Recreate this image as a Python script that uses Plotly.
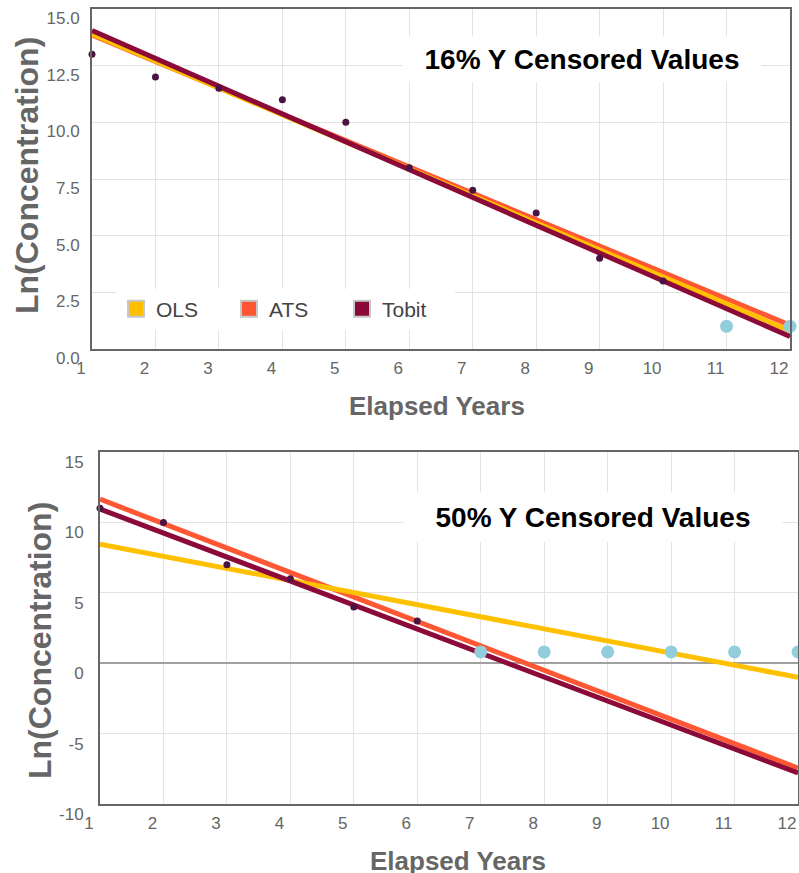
import plotly.graph_objects as go

# ---------------- data ----------------
years = [1, 2, 3, 4, 5, 6, 7, 8, 9, 10, 11, 12]

# Top chart (16% censored)
top_obs_x = [1, 2, 3, 4, 5, 6, 7, 8, 9, 10]
top_obs_y = [13.0, 12.0, 11.5, 11.0, 10.0, 8.0, 7.0, 6.0, 4.0, 3.0]
top_cens_x = [11, 12]
top_cens_y = [1.0, 1.0]
top_line_x = [1, 12]
top_ols = [13.9, 0.8]
top_ats = [13.85, 1.05]
top_tobit = [14.05, 0.55]
top_yticks = [0, 2.5, 5, 7.5, 10, 12.5, 15]
top_yticktext = ["0.0", "2.5", "5.0", "7.5", "10.0", "12.5", "15.0"]

# Bottom chart (50% censored)
bot_obs_x = [1, 2, 3, 4, 5, 6]
bot_obs_y = [11.0, 10.0, 7.0, 6.0, 4.0, 3.0]
bot_cens_x = [7, 8, 9, 10, 11, 12]
bot_cens_y = [0.8, 0.8, 0.8, 0.8, 0.8, 0.8]
bot_line_x = [1, 12]
bot_ols = [8.45, -1.0]
bot_ats = [11.65, -7.45]
bot_tobit = [10.95, -7.8]
bot_yticks = [-10, -5, 0, 5, 10, 15]
bot_yticktext = ["-10", "-5", "0", "5", "10", "15"]

series_names = ["OLS", "ATS", "Tobit"]
series_colors = ["#FFC000", "#FF5733", "#8B0A3A"]

top_title = "16% Y Censored Values"
bot_title = "50% Y Censored Values"
x_title = "Elapsed Years"
y_title = "Ln(Concentration)"

OBS_COLOR = "#4A1342"
CENS_COLOR = "#92CDDC"
FONT = "Arial, Liberation Sans, sans-serif"

fig = go.Figure()

def add_chart(xa, ya, lx, ols, ats, tobit, ox, oy, cx, cy, lw):
    for name, vals, col in [("ATS", ats, series_colors[1]),
                            ("OLS", ols, series_colors[0]),
                            ("Tobit", tobit, series_colors[2])]:
        fig.add_trace(go.Scatter(x=lx, y=vals, mode="lines", name=name,
                                 line=dict(color=col, width=lw),
                                 showlegend=False, xaxis=xa, yaxis=ya))
    fig.add_trace(go.Scatter(x=ox, y=oy, mode="markers", cliponaxis=False,
                             marker=dict(color=OBS_COLOR, size=7),
                             showlegend=False, xaxis=xa, yaxis=ya))
    fig.add_trace(go.Scatter(x=cx, y=cy, mode="markers", cliponaxis=False,
                             marker=dict(color=CENS_COLOR, size=13),
                             showlegend=False, xaxis=xa, yaxis=ya))

add_chart("x", "y", top_line_x, top_ols, top_ats, top_tobit,
          top_obs_x, top_obs_y, top_cens_x, top_cens_y, 5)
add_chart("x2", "y2", bot_line_x, bot_ols, bot_ats, bot_tobit,
          bot_obs_x, bot_obs_y, bot_cens_x, bot_cens_y, 5)

# legend entries (swatches)
for name, col in zip(series_names, series_colors):
    fig.add_trace(go.Scatter(x=[None], y=[None], mode="markers", name=name,
                             marker=dict(symbol="square", size=16, color=col,
                                         line=dict(color="#c8c8c8", width=2)),
                             xaxis="x", yaxis="y"))

W, H = 799, 873

def px_x(a, b):
    return [a / W, b / W]

def px_y(top, bottom):
    return [(H - bottom) / H, (H - top) / H]

axis_common = dict(showgrid=True, gridcolor="#e3e3e3", gridwidth=1,
                   showline=True, linecolor="#666666", linewidth=2, mirror=True,
                   ticks="", tickfont=dict(family=FONT, size=17, color="#666666"),
                   zeroline=False, automargin=False)

xaxis_common = dict(axis_common, range=[1, 12], tickmode="array", tickvals=years,
                    ticktext=[str(v) for v in years],
                    ticklabelshift=-11, ticklabelstandoff=3)

title_font = dict(family=FONT, size=26, color="#666666")
ytitle_font = dict(family=FONT, size=32, color="#666666")
head_font = dict(family=FONT, size=28, color="#000000")

fig.update_layout(
    width=W, height=H, autosize=False,
    margin=dict(l=0, r=0, t=0, b=0, autoexpand=False),
    paper_bgcolor="white", plot_bgcolor="white",
    font=dict(family=FONT),
    xaxis=dict(xaxis_common, domain=px_x(92, 790), anchor="y"),
    yaxis=dict(axis_common, domain=px_y(9, 349), anchor="x", range=[0, 15],
               tickmode="array", tickvals=top_yticks, ticktext=top_yticktext,
               ticklabelshift=9, ticklabelstandoff=7),
    xaxis2=dict(xaxis_common, domain=px_x(100, 798), anchor="y2"),
    yaxis2=dict(axis_common, domain=px_y(452, 804), anchor="x2", range=[-10, 15],
                tickmode="array", tickvals=bot_yticks, ticktext=bot_yticktext,
                ticklabelshift=10, ticklabelstandoff=11,
                zeroline=True, zerolinecolor="#a0a0a0", zerolinewidth=1.5),
    legend=dict(orientation="h", x=116 / W, xanchor="left",
                y=(H - 309) / H, yanchor="middle",
                bgcolor="white", font=dict(family=FONT, size=21, color="#444444"),
                entrywidth=68, entrywidthmode="pixels", itemclick=False),
    showlegend=True,
    annotations=[
        dict(text="<b>" + top_title + "</b>", xref="paper", yref="paper",
             x=582 / W, y=(H - 60) / H, xanchor="center", yanchor="middle",
             showarrow=False, bgcolor="white", width=350, height=37, borderpad=4,
             font=head_font),
        dict(text="<b>" + bot_title + "</b>", xref="paper", yref="paper",
             x=593 / W, y=(H - 517) / H, xanchor="center", yanchor="middle",
             showarrow=False, bgcolor="white", width=370, height=40, borderpad=4,
             font=head_font),
        # axis titles
        dict(text="<b>" + x_title + "</b>", xref="paper", yref="paper",
             x=437 / W, y=(H - 406) / H, xanchor="center", yanchor="middle",
             showarrow=False, font=title_font),
        dict(text="<b>" + x_title + "</b>", xref="paper", yref="paper",
             x=458 / W, y=(H - 861) / H, xanchor="center", yanchor="middle",
             showarrow=False, font=title_font),
        dict(text="<b>" + y_title + "</b>", xref="paper", yref="paper",
             x=27 / W, y=(H - 176) / H, xanchor="center", yanchor="middle",
             textangle=-90, showarrow=False, font=ytitle_font),
        dict(text="<b>" + y_title + "</b>", xref="paper", yref="paper",
             x=40 / W, y=(H - 641) / H, xanchor="center", yanchor="middle",
             textangle=-90, showarrow=False, font=ytitle_font),
    ],
)

fig.write_html("out.html", config={"displayModeBar": False},
               post_script="document.body.style.margin='0px';")
